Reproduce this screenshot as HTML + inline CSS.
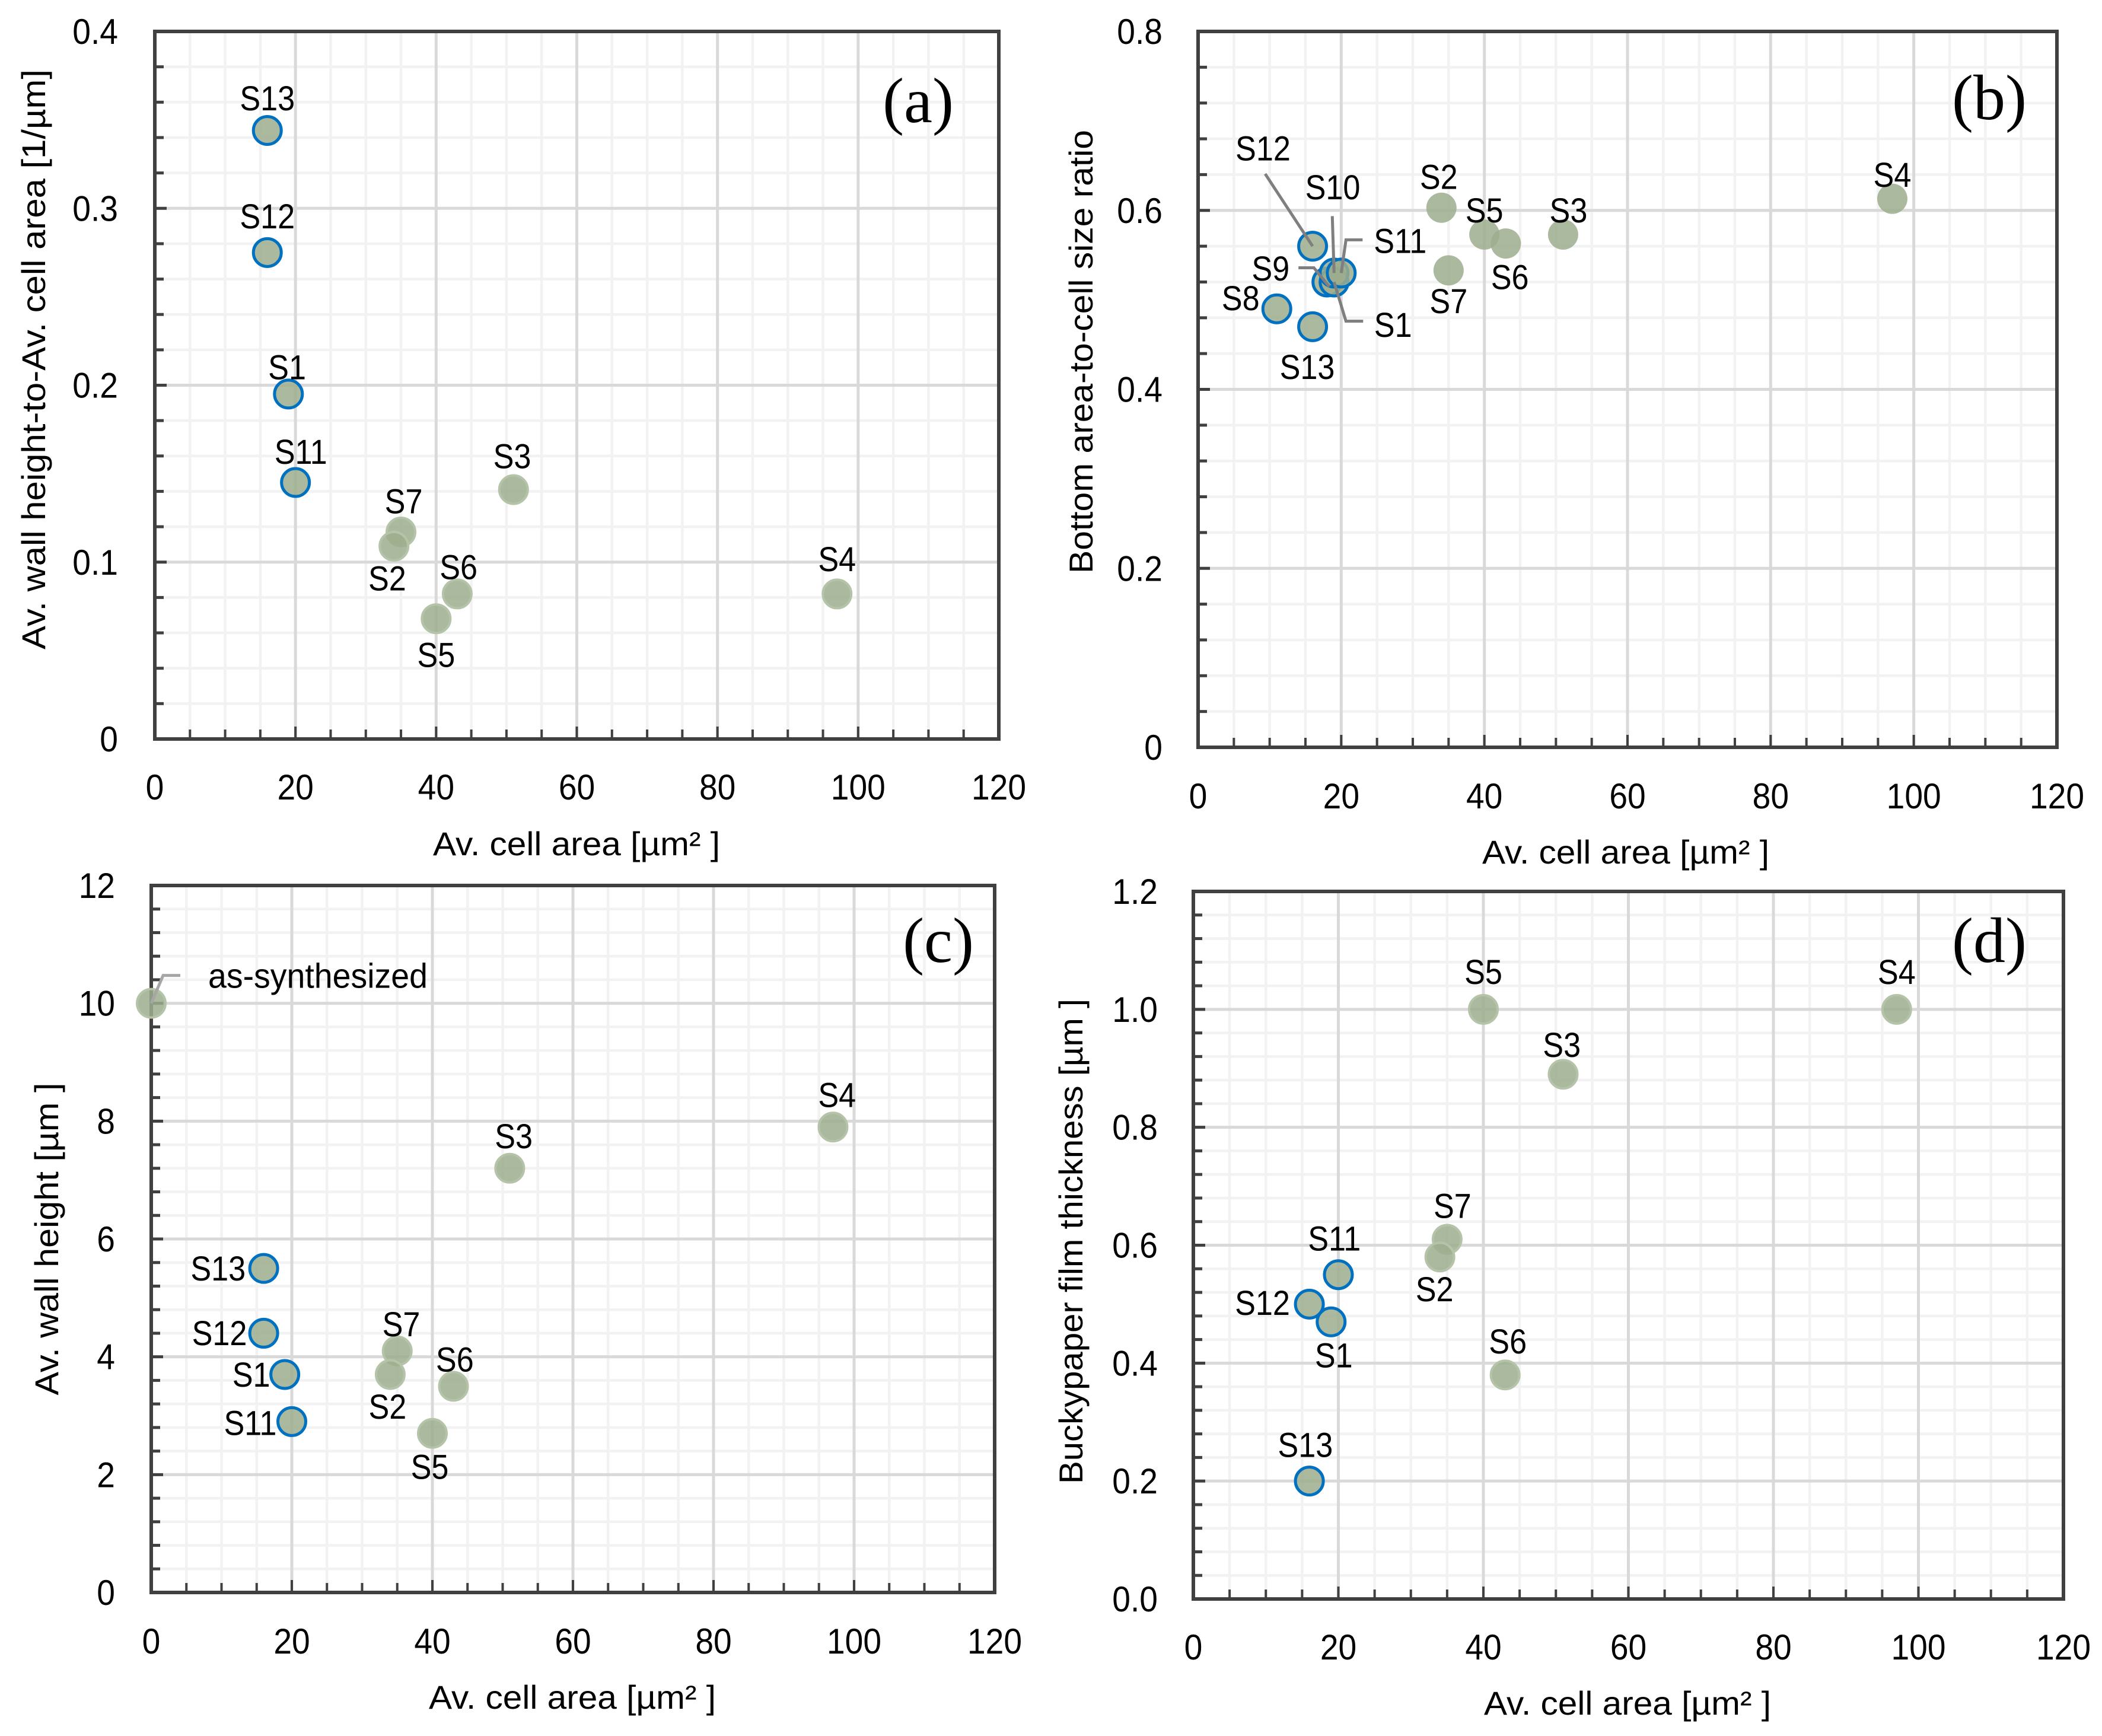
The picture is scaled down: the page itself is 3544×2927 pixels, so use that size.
<!DOCTYPE html>
<html lang="en">
<head>
<meta charset="utf-8">
<title>Cell area correlations</title>
<style>
html,body{margin:0;padding:0;background:#fff;}
svg{display:block;}
text{font-family:"Liberation Sans",sans-serif;fill:#000;}
</style>
</head>
<body>
<svg id="figure" xmlns="http://www.w3.org/2000/svg" width="3544" height="2927" viewBox="0 0 3544 2927">
<rect width="3544" height="2927" fill="#ffffff"/>
</svg>
<script>
// ---- shared data ----
const xTickLabels = ['0','20','40','60','80','100','120'];
const panelASamples = ['S13','S12','S1','S11','S3','S7','S2','S5','S6','S4'];
const panelACellArea = [16,16,19,20,51,35,34,40,43,97];
const panelAValues = [0.344,0.275,0.195,0.145,0.141,0.117,0.109,0.068,0.082,0.082];
const panelATicks = ['0','0.1','0.2','0.3','0.4'];

const panelBSamples = ['S2','S5','S3','S6','S4','S7','S12','S8','S13','S9','S1','S10','S11'];
const panelBCellArea = [34,40,51,43,97,35,16,11,16,18,19,19,20];
const panelBValues = [0.603,0.573,0.573,0.563,0.613,0.533,0.56,0.49,0.47,0.52,0.52,0.53,0.53];
const panelBTicks = ['0','0.2','0.4','0.6','0.8'];

const panelCSamples = ['as-synthesized','S4','S3','S13','S12','S1','S11','S7','S2','S6','S5'];
const panelCCellArea = [0,97,51,16,16,19,20,35,34,43,40];
const panelCValues = [10,7.9,7.2,5.5,4.4,3.7,2.9,4.1,3.7,3.5,2.7];
const panelCTicks = ['0','2','4','6','8','10','12'];

const panelDSamples = ['S5','S4','S3','S7','S2','S11','S12','S1','S6','S13'];
const panelDCellArea = [40,97,51,35,34,20,16,19,43,16];
const panelDValues = [1.0,1.0,0.89,0.61,0.58,0.55,0.5,0.47,0.38,0.2];
const panelDTicks = ['0.0','0.2','0.4','0.6','0.8','1.0','1.2'];

const blueSamples = ['S1','S8','S9','S10','S11','S12','S13'];

// ---- layout (pixels, not data) ----
const NS = 'http://www.w3.org/2000/svg';
const svg = document.getElementById('figure');

function el(parent, tag, attrs){
  const e = document.createElementNS(NS, tag);
  for (const k in attrs) e.setAttribute(k, attrs[k]);
  parent.appendChild(e);
  return e;
}
function line(parent, x1, y1, x2, y2, color, w, name){
  const e = el(parent, 'line', {x1:x1, y1:y1, x2:x2, y2:y2, stroke:color, 'stroke-width':w});
  
  
  return e;
}
function label(parent, str, x, y, fs, sx, anchor, name){
  const t = el(parent, 'text', {
    transform:'translate(' + x + ',' + (y + fs * 0.35) + ') scale(' + sx + ',1)',
    'font-size':fs, 'text-anchor':anchor
  });
  t.textContent = str;
  
  
  return t;
}
function fitted(parent, str, x, y, fs, len, rotate, name){
  const t = el(parent, 'text', {
    transform:'translate(' + x + ',' + y + ')' + (rotate ? ' rotate(-90)' : ''),
    'font-size':fs, 'text-anchor':'middle',
    textLength:len, lengthAdjust:'spacingAndGlyphs'
  });
  t.textContent = str;
  
  
  return t;
}

function drawPanel(p){
  const g = el(svg, 'g', {});
  
  
  const X = v => p.left + (v - 0) / 120 * (p.right - p.left);
  const yTop = p.yMax;
  const Y = v => p.bottom - v / yTop * (p.bottom - p.top);

  // gridlines
  const xMinorCount = 24;
  const yIntervals = (p.ticks.length - 1) * 5;
  for (let i = 1; i < xMinorCount; i++){
    const major = i % 4 === 0;
    if (!major) line(g, X(i*5), p.top, X(i*5), p.bottom, '#f2f2f2', 4.5, 'x-minor-gridline');
  }
  for (let i = 1; i < yIntervals; i++){
    const major = i % 5 === 0;
    if (!major) line(g, p.left, Y(yTop*i/yIntervals), p.right, Y(yTop*i/yIntervals), '#f2f2f2', 4.5, 'y-minor-gridline');
  }
  for (let i = 1; i < xMinorCount; i++){
    if (i % 4 === 0) line(g, X(i*5), p.top, X(i*5), p.bottom, '#d9d9d9', 5, 'x-major-gridline');
  }
  for (let i = 1; i < yIntervals; i++){
    if (i % 5 === 0) line(g, p.left, Y(yTop*i/yIntervals), p.right, Y(yTop*i/yIntervals), '#d9d9d9', 5, 'y-major-gridline');
  }

  // tick marks
  for (let i = 1; i < xMinorCount; i++){
    const major = i % 4 === 0;
    line(g, X(i*5), p.bottom, X(i*5), p.bottom - (major ? 21 : 16), '#404040', 4, major ? 'x-major-tick' : 'x-minor-tick');
  }
  for (let i = 1; i < yIntervals; i++){
    const major = i % 5 === 0;
    line(g, p.left, Y(yTop*i/yIntervals), p.left + (major ? 20 : 15), Y(yTop*i/yIntervals), '#404040', 5, major ? 'y-major-tick' : 'y-minor-tick');
  }

  // frame
  const frame = el(g, 'rect', {x:p.left, y:p.top, width:p.right-p.left, height:p.bottom-p.top, fill:'none', stroke:'#404040', 'stroke-width':6});
  
  

  // tick labels
  xTickLabels.forEach(s => {
    label(g, s, X(+s), p.bottom + p.xLabelGap, 60, 0.92, 'middle', 'x-tick-label');
  });
  p.ticks.forEach(s => {
    label(g, s, p.yLabelRight, Y(+s), 60, 0.92, 'end', 'y-tick-label');
  });

  // axis titles
  fitted(g, p.xTitle[0], p.xTitle[1], p.xTitle[2], 56, p.xTitle[3], false, 'x-axis-title');
  fitted(g, p.yTitle[0], p.yTitle[1], p.yTitle[2], 56, p.yTitle[3], true, 'y-axis-title');

  // panel letter
  const letter = el(g, 'text', {x:p.letter[1], y:p.letter[2], 'font-size':108, 'text-anchor':'middle', style:'font-family:\'Liberation Serif\',serif'});
  letter.textContent = p.letter[0];
  
  

  // points
  p.samples.forEach((s, i) => {
    const cx = X(p.xs[i]), cy = Y(p.ys[i]);
    const blue = blueSamples.includes(s);
    const c = el(g, 'circle', {
      cx:cx, cy:cy, r:blue ? 23.5 : (p.ring ? 24 : 25.5),
      fill:'#9cad8d', 'fill-opacity':0.85,
      stroke:blue ? '#0070c0' : (p.ring ? '#b5c4a8' : 'none'),
      'stroke-width':blue ? 5 : 4
    });
    
    
  });

  // leader lines, anchored on their sample's point
  (p.leaders || []).forEach(ld => {
    const i = p.samples.indexOf(ld.sample);
    const ax = X(p.xs[i]) + (ld.ax || 0), ay = Y(p.ys[i]) + (ld.ay || 0);
    const pts = [[ax, ay]].concat(ld.path.map(o => [X(p.xs[i]) + o[0], Y(p.ys[i]) + o[1]]));
    const pl = el(g, 'polyline', {points:pts.map(q => q.join(',')).join(' '), fill:'none', stroke:ld.color, 'stroke-width':5});
    
    
  });

  // point labels, offset from their points
  p.samples.forEach((s, i) => {
    const o = p.offsets[s] || [0, -55];
    if (s === 'as-synthesized'){
      fitted(g, s, X(p.xs[i]) + o[0], Y(p.ys[i]) + o[1] + 18, 58, 370, false, 'point-label-' + s);
    } else {
      label(g, s, X(p.xs[i]) + o[0], Y(p.ys[i]) + o[1], 58, 0.9, 'middle', 'point-label-' + s);
    }
  });
}

const k = 2.26;
const off = (a, b) => [a * k, b * k];

drawPanel({
  id:'a', left:261, right:1684, top:53, bottom:1246, yMax:0.4, ticks:panelATicks,
  samples:panelASamples, xs:panelACellArea, ys:panelAValues, ring:true,
  xLabelGap:81, yLabelRight:199,
  xTitle:['Av. cell area [µm² ]', 972, 1442, 484],
  yTitle:['Av. wall height-to-Av. cell area [1/µm]', 76, 606, 978],
  letter:['(a)', 1548, 206],
  offsets:{S13:off(0,-24),S12:off(0,-27),S1:off(-1,-20),S11:off(4,-23),S3:off(-1,-25),S7:off(2,-23),S2:off(-5,24),S5:off(0,27),S6:off(1,-20),S4:off(0,-26)}
});
drawPanel({
  id:'b', left:2020, right:3468, top:53, bottom:1260, yMax:0.8, ticks:panelBTicks,
  samples:panelBSamples, xs:panelBCellArea, ys:panelBValues, ring:false,
  xLabelGap:82, yLabelRight:1960,
  xTitle:['Av. cell area [µm² ]', 2741, 1456, 484],
  yTitle:['Bottom area-to-cell size ratio', 1842, 593, 748],
  letter:['(b)', 3354, 201],
  offsets:{S12:off(-37,-73),S10:off(-1,-64),S2:off(-2,-23),S5:off(0,-18),S3:off(4,-18),S4:off(0,-18),S11:off(44,-24),S9:off(-42,-10),S6:off(3,25),S7:off(0,23),S8:off(-27,-8),S1:off(44,32),S13:off(-4,30)},
  leaders:[
    {sample:'S12', color:'#7f7f7f', path:[[-80,-122]]},
    {sample:'S10', color:'#7f7f7f', path:[[-3,-96]]},
    {sample:'S11', color:'#7f7f7f', path:[[8,-56],[36,-56]]},
    {sample:'S9', color:'#7f7f7f', ax:4, ay:8, path:[[-22,-24],[-48,-24]]},
    {sample:'S1', color:'#7f7f7f', path:[[20,66],[49,66]]}
  ]
});
drawPanel({
  id:'c', left:255, right:1677, top:1493, bottom:2685, yMax:12, ticks:panelCTicks,
  samples:panelCSamples, xs:panelCCellArea, ys:panelCValues, ring:true,
  xLabelGap:82, yLabelRight:194,
  xTitle:['Av. cell area [µm² ]', 965, 2881, 484],
  yTitle:['Av. wall height [µm ]', 98, 2089, 527],
  letter:['(c)', 1582, 1622],
  offsets:{'as-synthesized':[281,-44],S4:off(3,-24),S3:off(3,-24),S13:off(-34,0),S12:off(-33,0),S1:off(-25,0),S11:off(-31,1),S7:off(3,-20),S2:off(-2,24),S6:off(1,-20),S5:off(-2,25)},
  leaders:[
    {sample:'as-synthesized', color:'#a6a6a6', path:[[20,-47],[49,-47]]}
  ]
});
drawPanel({
  id:'d', left:2012, right:3479, top:1503, bottom:2696, yMax:1.2, ticks:panelDTicks,
  samples:panelDSamples, xs:panelDCellArea, ys:panelDValues, ring:true,
  xLabelGap:81, yLabelRight:1952,
  xTitle:['Av. cell area [µm² ]', 2744, 2891, 484],
  yTitle:['Buckypaper film thickness [µm ]', 1825, 2093, 818],
  letter:['(d)', 3354, 1622],
  offsets:{S5:off(0,-28),S4:off(0,-28),S3:off(-1,-22),S7:off(4,-25),S2:off(-4,24),S11:off(-3,-27),S12:off(-35,-1),S1:off(2,25),S6:off(2,-25),S13:off(-3,-27)}
});
</script>
</body>
</html>
